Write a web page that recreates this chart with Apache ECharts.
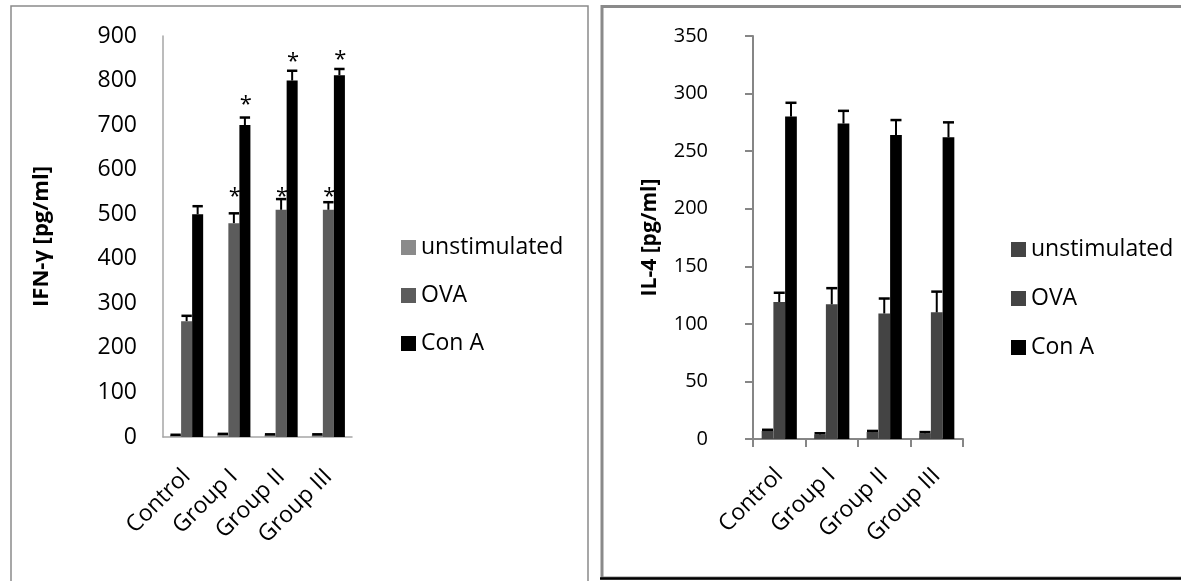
<!DOCTYPE html>
<html>
<head>
<meta charset="utf-8">
<script src="https://cdn.jsdelivr.net/npm/echarts@6/dist/echarts.min.js"></script>
<style>
html,body{margin:0;padding:0;background:#fff;}
#c{width:1181px;height:581px;}
</style>
</head>
<body>
<div id="c"></div>
<script>
const categories = ['Control', 'Group I', 'Group II', 'Group III'];
const seriesNames = ['unstimulated', 'OVA', 'Con A'];

// IFN-gamma panel
const ifnTicks = [0, 100, 200, 300, 400, 500, 600, 700, 800, 900];
const ifnUnstim = [4, 6, 5, 5];
const ifnUnstimErr = [1, 1, 1, 1];
const ifnOva = [260, 480, 510, 510];
const ifnOvaErr = [12, 22, 24, 17];
const ifnConA = [500, 700, 800, 812];
const ifnConAErr = [18, 17, 22, 14];
// heights (in pg/ml) at which the significance asterisks sit; 0 = no asterisk
const ifnOvaStarAt = [0, 550, 550, 550];
const ifnConAStarAt = [0, 756, 853, 857];

// IL-4 panel
const il4Ticks = [0, 50, 100, 150, 200, 250, 300, 350];
const il4Unstim = [7, 4, 6, 5];
const il4UnstimErr = [1, 1, 1, 1];
const il4Ova = [119, 117, 109, 110];
const il4OvaErr = [8, 14, 13, 18];
const il4ConA = [280, 274, 264, 262];
const il4ConAErr = [12, 11, 13, 13];

const FONT = 'Open Sans';

function errData(vals, errs, stars) {
  const out = [];
  vals.forEach((v, s) => {
    v.forEach((val, i) => {
      out.push([i, s, val, errs[s][i], stars[s] ? stars[s][i] : 0]);
    });
  });
  return out;
}

function makeErrSeries(xi, yi, data, gapRatio) {
  return {
    type: 'custom',
    xAxisIndex: xi,
    yAxisIndex: yi,
    z: 5,
    silent: true,
    encode: { x: 0, y: 2 },
    data: data,
    renderItem: function (params, api) {
      const cat = api.value(0), s = api.value(1), v = api.value(2), e = api.value(3), star = api.value(4);
      const band = api.size([1, 0])[0];
      const bw = band * (1 - gapRatio) / 3;
      const base = api.coord([cat, v]);
      const top = api.coord([cat, v + e]);
      const x = base[0] + (s - 1) * bw;
      const half = bw * 0.47;
      const children = [
        { type: 'line', shape: { x1: x, y1: base[1], x2: x, y2: top[1] }, style: { stroke: '#000', lineWidth: 2 } },
        { type: 'line', shape: { x1: x - half, y1: top[1], x2: x + half, y2: top[1] }, style: { stroke: '#000', lineWidth: 2.5 } }
      ];
      if (star) {
        const sp = api.coord([cat, star]);
        children.push({
          type: 'text',
          style: { text: '*', x: x + 1, y: sp[1] + 5, align: 'center', verticalAlign: 'middle', fontSize: 22, fontFamily: FONT, fill: '#000' }
        });
      }
      return { type: 'group', children: children };
    }
  };
}

const leftColors = ['#8a8a8a', '#5c5c5c', '#000000'];
const rightColors = ['#444444', '#444444', '#000000'];

function bars(xi, yi, vals, colors, gap) {
  return vals.map((v, s) => ({
    name: seriesNames[s],
    type: 'bar',
    xAxisIndex: xi,
    yAxisIndex: yi,
    data: v,
    barGap: '0%',
    barCategoryGap: gap,
    itemStyle: { color: colors[s] },
    emphasis: { disabled: true }
  }));
}

const chart = echarts.init(document.getElementById('c'));
chart.setOption({
  animation: false,
  backgroundColor: '#fff',
  textStyle: { fontFamily: FONT },
  grid: [
    { left: 163, top: 36, width: 189, height: 401 },
    { left: 753, top: 36, width: 210, height: 403 }
  ],
  legend: [
    {
      orient: 'vertical', left: 396, top: 229, itemWidth: 15, itemHeight: 15, itemGap: 21, icon: 'rect',
      selectedMode: false,
      textStyle: { fontSize: 23, fontFamily: FONT, color: '#000', lineHeight: 27 },
      data: seriesNames.map((n, i) => ({ name: n, itemStyle: { color: leftColors[i] } }))
    },
    {
      orient: 'vertical', left: 1006, top: 231, itemWidth: 15, itemHeight: 15, itemGap: 22, icon: 'rect',
      selectedMode: false,
      textStyle: { fontSize: 23, fontFamily: FONT, color: '#000', lineHeight: 27 },
      data: seriesNames.map((n, i) => ({ name: n, itemStyle: { color: rightColors[i] } }))
    }
  ],
  xAxis: [
    {
      type: 'category', gridIndex: 0, data: categories,
      axisLine: { lineStyle: { color: '#a6a6a6', width: 1.5 } },
      axisTick: { show: false },
      axisLabel: { rotate: 45, margin: 36, padding: [6, 0, 0, 0], fontSize: 23, fontFamily: FONT, color: '#000', interval: 0 }
    },
    {
      type: 'category', gridIndex: 1, data: categories,
      axisLine: { lineStyle: { color: '#868686', width: 2 } },
      axisTick: { show: true, length: 8, lineStyle: { color: '#868686', width: 2 } },
      axisLabel: { rotate: 45, margin: 33, padding: [14, 0, 0, 0], fontSize: 23, fontFamily: FONT, color: '#000', interval: 0 }
    }
  ],
  yAxis: [
    {
      type: 'value', gridIndex: 0, min: ifnTicks[0], max: ifnTicks[ifnTicks.length - 1], interval: 100,
      name: 'IFN-γ [pg/ml]', nameLocation: 'middle', nameGap: 110, nameRotate: 90,
      nameTextStyle: { fontSize: 22, fontWeight: 'bold', fontFamily: FONT, color: '#000' },
      axisLine: { show: true, lineStyle: { color: '#a6a6a6', width: 1.5 } },
      axisTick: { show: false },
      splitLine: { show: false },
      axisLabel: { margin: 26, fontSize: 23, fontFamily: FONT, color: '#000' }
    },
    {
      type: 'value', gridIndex: 1, min: il4Ticks[0], max: il4Ticks[il4Ticks.length - 1], interval: 50,
      name: 'IL-4 [pg/ml]', nameLocation: 'middle', nameGap: 92, nameRotate: 90,
      nameTextStyle: { fontSize: 21, fontWeight: 'bold', fontFamily: FONT, color: '#000' },
      axisLine: { show: true, lineStyle: { color: '#868686', width: 2 } },
      axisTick: { show: true, length: 8, lineStyle: { color: '#868686', width: 2 } },
      splitLine: { show: false },
      axisLabel: { margin: 45, fontSize: 20, fontFamily: FONT, color: '#000' }
    }
  ],
  series: [
    ...bars(0, 0, [ifnUnstim, ifnOva, ifnConA], leftColors, '30%'),
    ...bars(1, 1, [il4Unstim, il4Ova, il4ConA], rightColors, '33%'),
    makeErrSeries(0, 0, errData([ifnUnstim, ifnOva, ifnConA], [ifnUnstimErr, ifnOvaErr, ifnConAErr], [null, ifnOvaStarAt, ifnConAStarAt]), 0.30),
    makeErrSeries(1, 1, errData([il4Unstim, il4Ova, il4ConA], [il4UnstimErr, il4OvaErr, il4ConAErr], [null, null, null]), 0.33)
  ],
  graphic: [
    { type: 'rect', silent: true, shape: { x: 11, y: 6, width: 577, height: 620 }, style: { fill: 'none', stroke: '#8a8a8a', lineWidth: 1.5 } },
    { type: 'rect', silent: true, shape: { x: 602, y: 6.5, width: 640, height: 571.5 }, style: { fill: 'none', stroke: '#8a8a8a', lineWidth: 3 } },
    { type: 'line', silent: true, shape: { x1: 600, y1: 578.5, x2: 1181, y2: 578.5 }, style: { stroke: '#000', lineWidth: 2.5 } }
  ]
});
</script>
</body>
</html>
